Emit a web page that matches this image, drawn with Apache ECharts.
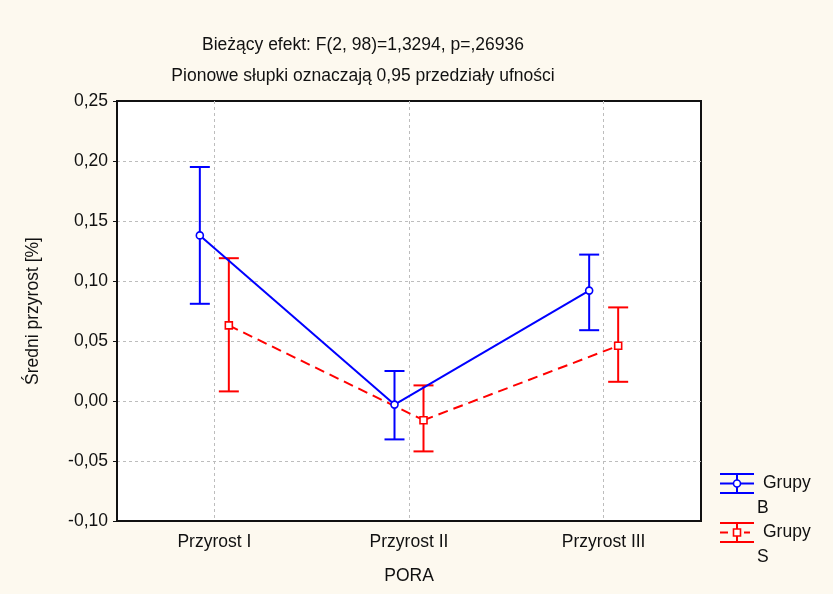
<!DOCTYPE html>
<html>
<head>
<meta charset="utf-8">
<script src="https://cdn.jsdelivr.net/npm/echarts@6/dist/echarts.min.js"></script>
<style>
  html, body { margin: 0; padding: 0; background: #fdf9ef; }
  #chart { width: 833px; height: 594px; }
</style>
</head>
<body>
<div id="chart"></div>
<script>
// Categories on the x axis
const categories = ['Przyrost I', 'Przyrost II', 'Przyrost III'];

// Group B: means with 0.95 confidence limits
const groupBMean  = [0.138, -0.003, 0.092];
const groupBLower = [0.081, -0.032, 0.059];
const groupBUpper = [0.195,  0.025, 0.122];

// Group S: means with 0.95 confidence limits
const groupSMean  = [0.063, -0.016, 0.046];
const groupSLower = [0.008, -0.042, 0.016];
const groupSUpper = [0.119,  0.013, 0.078];

// Y axis range
const yMin = -0.10;
const yMax = 0.25;
const yStep = 0.05;

const titleLines = [
  'Bieżący efekt: F(2, 98)=1,3294, p=,26936',
  'Pionowe słupki oznaczają 0,95 przedziały ufności'
];

const FONT = '"Liberation Sans", Arial, sans-serif';
const FS = 17.5;

const fmt = v => (Math.abs(v) < 1e-9 ? 0 : v).toFixed(2).replace('.', ',');

// Error bar series: mean marker, vertical CI bar with caps, and a segment to the next mean
function errorBarSeries(name, mean, lower, upper, color, offset, marker, dashed) {
  return {
    type: 'custom',
    name: name,
    data: mean.map((m, i) => [i, m, lower[i], upper[i]]),
    encode: { x: 0, y: 1 },
    renderItem: function (params, api) {
      const i = api.value(0);
      const p = api.coord([i, api.value(1)]);
      const lo = api.coord([i, api.value(2)]);
      const hi = api.coord([i, api.value(3)]);
      const x = p[0] + offset;
      const cap = 10;
      const children = [];
      if (params.dataIndex < mean.length - 1) {
        const q = api.coord([i + 1, mean[params.dataIndex + 1]]);
        children.push({
          type: 'line',
          shape: { x1: x, y1: p[1], x2: q[0] + offset, y2: q[1] },
          style: { stroke: color, lineWidth: 2, lineDash: dashed ? [10, 6] : null }
        });
      }
      const barStyle = { stroke: color, lineWidth: 2 };
      children.push(
        { type: 'line', shape: { x1: x, y1: lo[1], x2: x, y2: hi[1] }, style: barStyle },
        { type: 'line', shape: { x1: x - cap, y1: hi[1], x2: x + cap, y2: hi[1] }, style: barStyle },
        { type: 'line', shape: { x1: x - cap, y1: lo[1], x2: x + cap, y2: lo[1] }, style: barStyle }
      );
      if (marker === 'circle') {
        children.push({
          type: 'circle', shape: { cx: x, cy: p[1], r: 3.5 },
          style: { fill: '#fff', stroke: color, lineWidth: 1.6 }
        });
      } else {
        children.push({
          type: 'rect', shape: { x: x - 3.5, y: p[1] - 3.5, width: 7, height: 7 },
          style: { fill: '#fff', stroke: color, lineWidth: 1.6 }
        });
      }
      return { type: 'group', children: children };
    },
    z: 3
  };
}

// Legend drawn as graphics: bar-with-caps symbols and two-line labels
function legendItem(top, color, marker, dashed, label1, label2) {
  const x0 = 720, x1 = 754, xc = 737;
  const st = { stroke: color, lineWidth: 2 };
  const items = [
    { type: 'line', shape: { x1: x0, y1: top, x2: x1, y2: top }, style: st },
    { type: 'line', shape: { x1: x0, y1: top + 19, x2: x1, y2: top + 19 }, style: st },
    { type: 'line', shape: { x1: xc, y1: top, x2: xc, y2: top + 19 }, style: st }
  ];
  const cy = top + 9.5;
  if (dashed) {
    items.push({ type: 'line', shape: { x1: x0, y1: cy, x2: x0 + 8, y2: cy }, style: st });
    items.push({ type: 'line', shape: { x1: xc + 7, y1: cy, x2: xc + 13, y2: cy }, style: st });
  } else {
    items.push({ type: 'line', shape: { x1: x0, y1: cy, x2: x1, y2: cy }, style: st });
  }
  if (marker === 'circle') {
    items.push({ type: 'circle', shape: { cx: xc, cy: cy, r: 3.5 }, style: { fill: '#fff', stroke: color, lineWidth: 1.6 } });
  } else {
    items.push({ type: 'rect', shape: { x: xc - 3.5, y: cy - 3.5, width: 7, height: 7 }, style: { fill: '#fff', stroke: color, lineWidth: 1.6 } });
  }
  items.push({
    type: 'text', x: 763, y: cy, style: { text: label1, font: FS + 'px ' + FONT, fill: '#111', verticalAlign: 'middle' }
  });
  items.push({
    type: 'text', x: 757, y: cy + 25, style: { text: label2, font: FS + 'px ' + FONT, fill: '#111', verticalAlign: 'middle' }
  });
  return items;
}

const chart = echarts.init(document.getElementById('chart'), null, { renderer: 'canvas' });

chart.setOption({
  animation: false,
  backgroundColor: '#fdf9ef',
  textStyle: { fontFamily: FONT },
  title: [
    { text: titleLines[0], left: 358, top: 31, textAlign: 'center',
      textStyle: { fontSize: FS, fontWeight: 'normal', color: '#111', fontFamily: FONT } },
    { text: titleLines[1], left: 358, top: 62, textAlign: 'center',
      textStyle: { fontSize: FS, fontWeight: 'normal', color: '#111', fontFamily: FONT } }
  ],
  grid: {
    left: 117, right: 132, top: 101, bottom: 73,
    show: true, backgroundColor: '#ffffff', borderColor: '#111', borderWidth: 2
  },
  xAxis: {
    type: 'category',
    data: categories,
    boundaryGap: true,
    name: 'PORA',
    nameLocation: 'middle',
    nameGap: 46,
    nameTextStyle: { fontSize: FS, color: '#111', fontFamily: FONT },
    axisLine: { onZero: false, lineStyle: { color: '#111', width: 2 } },
    axisTick: { inside: true, length: 4, alignWithLabel: true, lineStyle: { color: '#111' } },
    axisLabel: { fontSize: FS, color: '#111', margin: 12, fontFamily: FONT },
    splitLine: { show: true, alignWithLabel: true, lineStyle: { color: '#bdbdbd', type: [3, 3], width: 1 } }
  },
  yAxis: {
    type: 'value',
    min: yMin,
    max: yMax,
    interval: yStep,
    name: 'Średni przyrost [%]',
    nameLocation: 'middle',
    nameGap: 75,
    nameTextStyle: { fontSize: FS, color: '#111', fontFamily: FONT },
    axisLine: { show: true, onZero: false, lineStyle: { color: '#111', width: 2 } },
    axisTick: { show: true, length: 4, lineStyle: { color: '#111' } },
    axisLabel: { fontSize: FS, color: '#111', margin: 9, formatter: fmt, fontFamily: FONT },
    splitLine: {
      show: true, showMinLine: false, showMaxLine: false,
      lineStyle: { color: '#bdbdbd', type: [3, 3], width: 1 }
    }
  },
  graphic: [
    ...legendItem(474, '#0000ff', 'circle', false, 'Grupy', 'B'),
    ...legendItem(523, '#ff0000', 'square', true, 'Grupy', 'S')
  ],
  series: [
    errorBarSeries('Grupy S', groupSMean, groupSLower, groupSUpper, '#ff0000', 14.5, 'square', true),
    errorBarSeries('Grupy B', groupBMean, groupBLower, groupBUpper, '#0000ff', -14.5, 'circle', false)
  ]
});
</script>
</body>
</html>
